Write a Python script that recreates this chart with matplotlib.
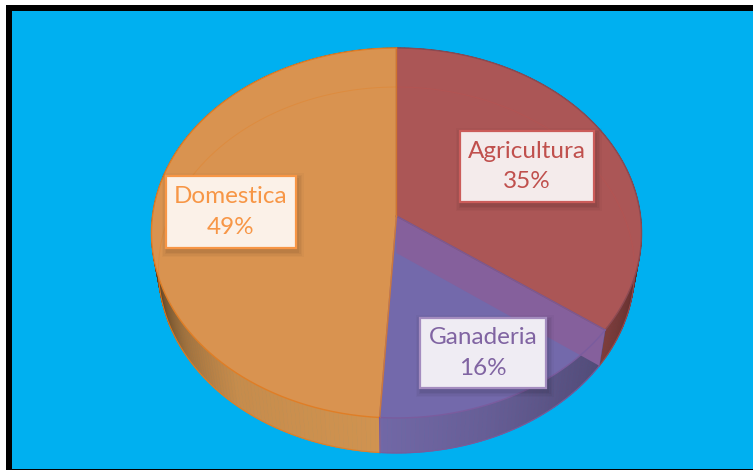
import numpy as np
import matplotlib
matplotlib.use("Agg")
import matplotlib.pyplot as plt
from matplotlib.patches import Rectangle, Polygon
from matplotlib.collections import PolyCollection
from matplotlib.colors import to_rgb

# Data
categories = ["Agricultura", "Ganaderia", "Domestica"]
shares = [35, 16, 49]

top_colors = ["#AB5656", "#7369AB", "#D99350"]
edge_colors = ["#8C4A52", "#7A5C9E", "#E07E26"]
rim_colors = ["#C0504D", "#7D5A96", "#E57E20"]
wall_colors = ["#9A4A48", "#7268A6", "#D09350"]
text_colors = ["#C0504D", "#8064A2", "#F79646"]
box_colors = ["#F4EBEB", "#EFECF3", "#FBF1E8"]
box_edges = ["#CB5C5A", "#A48CBF", "#F79646"]

# label boxes in pixels: left, top, right, bottom
boxes = [(460, 131, 594, 202), (420, 318, 546, 388), (166, 176, 296, 248)]

CX = 396.5
TOP = dict(b=244.0, a=183.4, k=0.0918, cy=216.0)
BOTTOM = dict(b=237.0, a=181.4, k=0.0929, cy=253.0)


def project(theta_deg, geo):
    # theta measured clockwise from 12 o'clock, perspective circle -> screen
    t = np.radians(theta_deg)
    u, v = np.sin(t), np.cos(t)
    d = 1 + geo["k"] * v
    return CX + geo["b"] * u / d, geo["cy"] - geo["a"] * v / d


def arc(t0, t1, geo):
    n = max(int(abs(t1 - t0) * 2), 2)
    x, y = project(np.linspace(t0, t1, n), geo)
    return np.column_stack([x, y])


def apex(geo):
    return [CX, geo["cy"]]


fig = plt.figure(figsize=(7.53, 4.70), dpi=100)
fig.patch.set_facecolor("white")
ax = fig.add_axes([0, 0, 1, 1])
ax.set_xlim(0, 753)
ax.set_ylim(470, 0)
ax.axis("off")

# frame
ax.add_patch(Rectangle((6, 5), 760, 480, fc="black", ec="none", zorder=0))
ax.add_patch(Rectangle((12, 11), 760, 457.5, fc="#00B0F0", ec="none", zorder=1))

edges = np.concatenate([[0], np.cumsum(shares) * 3.6])

# shading of the side wall along the angle
shade_t = [0, 100, 112, 126, 127, 140, 160, 184, 218, 236, 256, 268, 360]
shade_v = [0.55, 0.5, 0.7, 0.82, 0.72, 0.78, 0.9, 1.0, 0.95, 0.78, 0.45, 0.38, 0.38]

for i in range(len(shares)):
    ts = np.arange(edges[i], edges[i + 1], 1.0)
    ts = np.append(ts, edges[i + 1])
    quads, cols = [], []
    for t0, t1 in zip(ts[:-1], ts[1:]):
        xt, yt = project(np.array([t0, t1]), TOP)
        xb, yb = project(np.array([t0, t1]), BOTTOM)
        quads.append([(xt[0], yt[0]), (xt[1], yt[1]), (xb[1], yb[1]), (xb[0], yb[0])])
        s = np.interp((t0 + t1) / 2, shade_t, shade_v)
        cols.append(np.array(to_rgb(wall_colors[i])) * s)
    ax.add_collection(PolyCollection(quads, facecolors=cols, edgecolors=cols,
                                     linewidths=0.6, zorder=2))
    # outer line of the wall
    ax.plot(*arc(edges[i], edges[i + 1], BOTTOM).T, color=edge_colors[i], lw=0.8, alpha=0.8, zorder=2)

# top faces
for i in range(len(shares)):
    pts = np.vstack([[apex(TOP)], arc(edges[i], edges[i + 1], TOP)])
    ax.add_patch(Polygon(pts, closed=True, fc=top_colors[i], ec="none", zorder=3))

# wall between red and purple seen through the purple wedge
t = edges[1]
xt, yt = project(t, TOP)
xb, yb = project(t, BOTTOM)
band = [apex(TOP), (xt, yt), (xb, yb), apex(BOTTOM)]
ax.add_patch(Polygon(band, closed=True, fc="#85609C", ec="none", zorder=3.1))

# faint lines of the floor seen through the top
for i in range(len(shares)):
    ax.plot(*arc(edges[i], edges[i + 1], BOTTOM).T, color=rim_colors[i], lw=0.7, alpha=0.35, zorder=3.2)

# outlines
for i in range(len(shares)):
    a = arc(edges[i], edges[i + 1], TOP)
    ax.plot(*a.T, color=edge_colors[i], lw=1.0, zorder=3.5)
    ax.plot([CX, a[0, 0]], [TOP["cy"], a[0, 1]], color=edge_colors[i], lw=1.0, alpha=0.8, zorder=3.5)
    ax.plot([CX, a[-1, 0]], [TOP["cy"], a[-1, 1]], color=edge_colors[i], lw=1.0, alpha=0.8, zorder=3.5)
xt, yt = project(edges[2], TOP)
xb, yb = project(edges[2], BOTTOM)
ax.plot([xt, xb], [yt, yb], color="#7A5C9E", lw=1.0, zorder=3.5)

# data labels
for i, (l, t, r, b) in enumerate(boxes):
    for grow, al in zip([6, 4.5, 3, 1.5], [0.025, 0.03, 0.04, 0.05]):
        ax.add_patch(Rectangle((l - grow + 2, t - grow + 3), r - l + 2 * grow, b - t + 2 * grow,
                               fc="black", ec="none", alpha=al, zorder=4))
    ax.add_patch(Rectangle((l, t), r - l, b - t, fc=box_colors[i], ec=box_edges[i], lw=1.6, zorder=5))
    ax.text((l + r) / 2, (t + b) / 2, f"{categories[i]}\n{shares[i]}%", color=text_colors[i],
            family="Lato", fontsize=17.5, ha="center", va="center", ma="center",
            linespacing=1.55, zorder=6)

fig.savefig("out.png", dpi=100, facecolor="white")
